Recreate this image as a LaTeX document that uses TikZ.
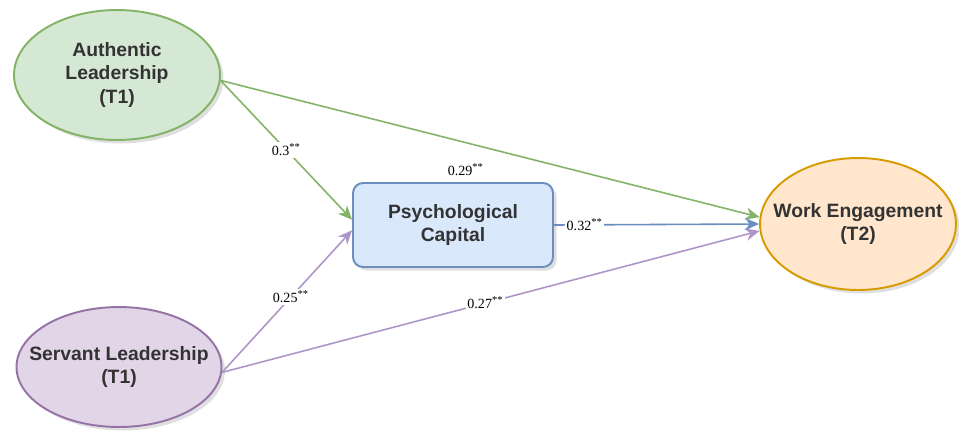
\documentclass[tikz,border=0pt]{standalone}
\usepackage{fontspec}
\setmainfont{Liberation Serif}
\setsansfont{Liberation Sans}
\usetikzlibrary{shapes.geometric,arrows.meta,shadows}
\definecolor{alline}{HTML}{82B366}
\definecolor{alfill}{HTML}{D5E8D4}
\definecolor{slline}{HTML}{9673A6}
\definecolor{slarrow}{HTML}{AE95C8}
\definecolor{slfill}{HTML}{E1D5E7}
\definecolor{pcline}{HTML}{6C8EBF}
\definecolor{pcfill}{HTML}{DAE8FC}
\definecolor{weline}{HTML}{D79B00}
\definecolor{wefill}{HTML}{FFE6CC}

\begin{document}
\begin{tikzpicture}[x=0.02cm,y=-0.02cm,
  oval/.style={ellipse,draw,line width=1.1pt,inner sep=0pt,
    drop shadow={opacity=0.25,shadow xshift=2pt,shadow yshift=-2pt}},
  txt/.style={align=center,font=\sffamily\bfseries\fontsize{11}{13.5}\selectfont,text=black!80},
  arr/.style={-{Stealth[length=8pt,width=7pt]},line width=0.9pt},
  lbl/.style={font=\fontsize{8}{9}\selectfont,text=black,fill=white,inner sep=1pt}]
\useasboundingbox (0,0) rectangle (959,443);

% constructs
\node[oval,draw=alline,fill=alfill,minimum width=4.12cm,minimum height=2.6cm,
  label={[txt]center:{Authentic\\Leadership\\(T1)}}] (AL) at (117,75) {};
\node[oval,draw=slline,fill=slfill,minimum width=4.1cm,minimum height=2.4cm,
  label={[txt]center:{Servant Leadership\\(T1)}}] (SL) at (119,367) {};
\node[oval,draw=weline,fill=wefill,minimum width=3.92cm,minimum height=2.64cm,
  label={[txt]center:{Work Engagement\\(T2)}}] (WE) at (858,224) {};
\node[txt,draw=pcline,fill=pcfill,line width=1.1pt,rounded corners=0.2cm,
  minimum width=4cm,minimum height=1.68cm,
  drop shadow={opacity=0.25,shadow xshift=2pt,shadow yshift=-2pt}] (PC) at (453,225) {Psychological\\Capital};

% paths
\draw[arr,alline] (AL.-3) -- (PC.177) node[lbl,pos=0.5] {0.3\textsuperscript{**}};
\draw[arr,alline] (AL.-3) -- (WE.176) node[lbl,pos=0.455,yshift=-0.54cm,fill=none] {0.29\textsuperscript{**}};
\draw[arr,slarrow] (SL.-3) -- (PC.183) node[lbl,pos=0.53] {0.25\textsuperscript{**}};
\draw[arr,slarrow] (SL.-3) -- (WE.184) node[lbl,pos=0.49] {0.27\textsuperscript{**}};
\draw[arr,pcline] (PC.east) -- (WE.west) node[lbl,pos=0.15] {0.32\textsuperscript{**}};
\end{tikzpicture}
\end{document}
